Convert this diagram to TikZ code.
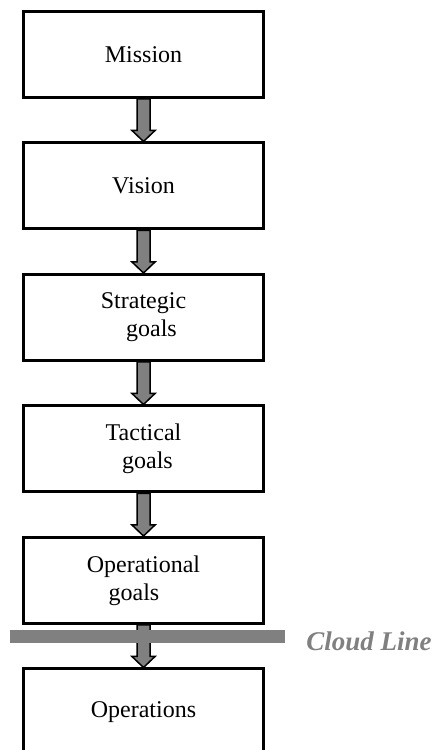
\documentclass[tikz,border=0pt]{standalone}
\usepackage{fontspec}
\setmainfont{Liberation Serif}
\usepackage{tikz}
\usetikzlibrary{positioning, calc}

\newcommand{\flowarrow}[2]{%
  \draw[flow] ($(#1.south)+(-6.5,0)$) -- ($(#2.north)+(-6.5,11)$) -- ++(-5,0) -- (#2.north)
    -- ++(11.5,11) -- ++(-5,0) -- ($(#1.south)+(6.5,0)$) -- cycle;}

\begin{document}
\begin{tikzpicture}[
    x=1pt, y=1pt,
    level/.style={rectangle, draw=black, line width=3pt, minimum width=240pt, minimum height=86pt, align=center, font=\fontsize{24}{28}\selectfont},
    flow/.style={draw=black, line width=1.5pt, fill=black!50, line join=miter},
    cloudbar/.style={rectangle, fill=black!50, minimum width=275pt, minimum height=13pt, inner sep=0pt},
    cloudtext/.style={text=black!50, inner sep=0pt, font=\fontsize{27}{32}\selectfont\bfseries\itshape},
    node distance=42.5pt
]
\useasboundingbox (0,0) rectangle (434,750);

\node[level] (mission) at (143.5,695.5) {Mission};
\node[level, below=of mission] (vision) {Vision};
\node[level, below=of vision] (strategic) {Strategic\\\hspace*{16pt}goals};
\node[level, below=of strategic] (tactical) {Tactical\\\hspace*{8pt}goals};
\node[level, below=of tactical] (operational) {Operational\\goals\hspace*{19pt}};
\node[level, below=of operational] (operations) {Operations};

% Arrows
\flowarrow{mission}{vision}
\flowarrow{vision}{strategic}
\flowarrow{strategic}{tactical}
\flowarrow{tactical}{operational}
\flowarrow{operational}{operations}

% Cloud line
\node[cloudbar] (bar) at (147.5,113.5) {};
\node[cloudtext, right=21pt of bar, yshift=-4.5pt] (cloudlabel) {Cloud Line};

\end{tikzpicture}
\end{document}
